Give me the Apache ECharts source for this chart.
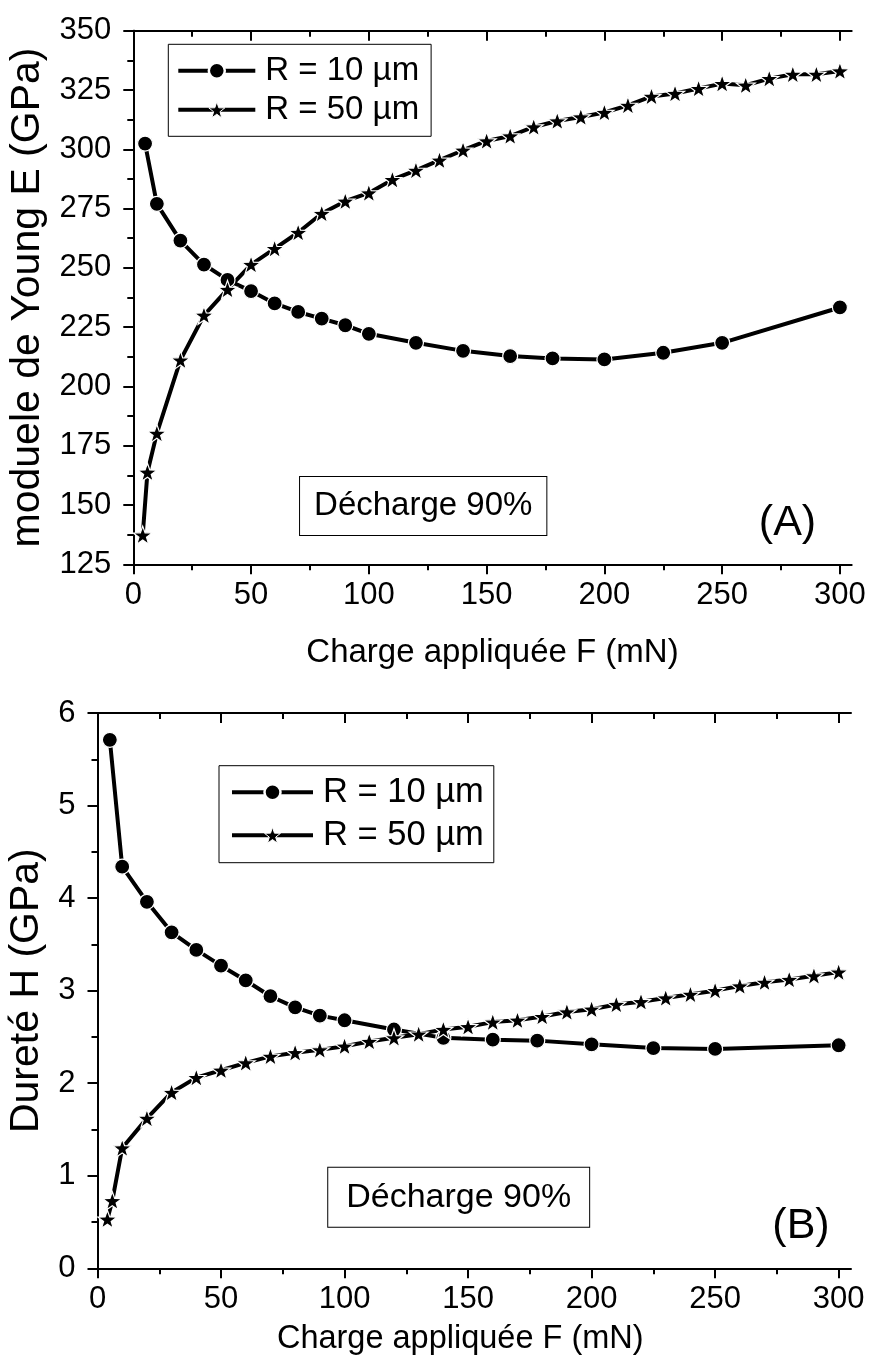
<!DOCTYPE html>
<html>
<head>
<meta charset="utf-8">
<script src="https://cdn.jsdelivr.net/npm/echarts@6/dist/echarts.min.js"></script>
<style>html,body{margin:0;padding:0;background:#fff}#c{width:870px;height:1358px}</style>
</head>
<body>
<div id="c"></div>
<script>
// ---- data ----
const seriesNames = ['R = 10 µm', 'R = 50 µm'];
const forceR10 = [5, 10, 20, 30, 40, 50, 60, 70, 80, 90, 100, 120, 140, 160, 178, 200, 225, 250, 300];
const forceR50 = [4, 6, 10, 20, 30, 40, 50, 60, 70, 80, 90, 100, 110, 120, 130, 140, 150, 160, 170, 180, 190, 200, 210, 220, 230, 240, 250, 260, 270, 280, 290, 300];
const modulusR10 = [302.4, 277, 261.5, 251.4, 244.9, 240.2, 235, 231.4, 228.6, 225.8, 222.2, 218.4, 215, 212.8, 211.8, 211.4, 214.2, 218.4, 233.3];
const modulusR50 = [137.3, 163.8, 180.2, 211.1, 230, 240.9, 251.4, 258.1, 264.9, 272.9, 278.1, 281.6, 287.2, 291.1, 295.4, 299.6, 303.5, 305.6, 309.4, 311.9, 313.6, 315.5, 318.5, 322.3, 323.5, 325.6, 327.7, 327.0, 329.8, 331.6, 331.6, 333.0];
const hardnessR10 = [5.71, 4.34, 3.96, 3.63, 3.44, 3.27, 3.11, 2.94, 2.82, 2.73, 2.68, 2.58, 2.49, 2.47, 2.46, 2.42, 2.38, 2.37, 2.41];
const hardnessR50 = [0.53, 0.73, 1.30, 1.62, 1.90, 2.06, 2.14, 2.22, 2.29, 2.33, 2.36, 2.40, 2.45, 2.49, 2.53, 2.58, 2.61, 2.66, 2.68, 2.72, 2.77, 2.80, 2.85, 2.88, 2.92, 2.96, 3.00, 3.05, 3.09, 3.12, 3.16, 3.20];
const xMajorTicks = [0, 50, 100, 150, 200, 250, 300];
const xMinorTicks = [25, 75, 125, 175, 225, 275];
const xTitle = 'Charge appliquée F (mN)';
const yTitleA = 'moduele de Young E (GPa)';
const yTitleB = 'Dureté H (GPa)';
const boxLabel = 'Décharge 90%';
const panelLabels = ['(A)', '(B)'];

// ---- styling ----
const FONT = "'Liberation Sans', Arial, Helvetica, sans-serif";
const BLACK = '#000';
const STAR = 'path://M50 0 L61.76 33.82 L97.55 34.55 L69.02 56.18 L79.39 90.45 L50 70 L20.61 90.45 L30.98 56.18 L2.45 34.55 L38.24 33.82 Z';
const XMAX = 305;

function pairs(xs, ys) { return xs.map((x, i) => [x, ys[i]]); }

function xAxesFor(g, titleGap, titleSize, titlePad) {
  const base = { type: 'value', gridIndex: g, min: 0, max: XMAX, splitLine: { show: false } };
  const line = { show: true, lineStyle: { color: BLACK, width: 2 } };
  return [
    Object.assign({}, base, {
      position: 'bottom',
      axisLine: line,
      axisTick: { show: true, length: 10, customValues: xMajorTicks, lineStyle: { color: BLACK, width: 2 } },
      axisLabel: { show: true, customValues: xMajorTicks, margin: 16, color: BLACK, fontSize: 31, fontFamily: FONT },
      name: xTitle, nameLocation: 'middle', nameGap: titleGap,
      nameTextStyle: { color: BLACK, fontSize: titleSize, fontFamily: FONT, verticalAlign: 'top', padding: titlePad }
    }),
    Object.assign({}, base, {
      position: 'bottom',
      axisLine: { show: false },
      axisTick: { show: true, length: 6, customValues: xMinorTicks, lineStyle: { color: BLACK, width: 2 } },
      axisLabel: { show: false }
    }),
    Object.assign({}, base, {
      position: 'top',
      axisLine: line,
      axisTick: { show: true, inside: true, length: 10, customValues: xMajorTicks, lineStyle: { color: BLACK, width: 2 } },
      axisLabel: { show: false }
    }),
    Object.assign({}, base, {
      position: 'top',
      axisLine: { show: false },
      axisTick: { show: true, inside: true, length: 6, customValues: xMinorTicks, lineStyle: { color: BLACK, width: 2 } },
      axisLabel: { show: false }
    })
  ];
}

function yAxesFor(g, min, max, interval, title, gap, titleSize) {
  const base = { type: 'value', gridIndex: g, min: min, max: max, interval: interval, splitLine: { show: false } };
  const line = { show: true, lineStyle: { color: BLACK, width: 2 } };
  const minor = { show: true, splitNumber: 2, length: 6, lineStyle: { color: BLACK, width: 2 } };
  return [
    Object.assign({}, base, {
      position: 'left',
      axisLine: line,
      axisTick: { show: true, length: 10, lineStyle: { color: BLACK, width: 2 } },
      minorTick: minor,
      axisLabel: { show: true, margin: 22, color: BLACK, fontSize: 31, fontFamily: FONT },
      name: title, nameLocation: 'middle', nameGap: gap,
      nameTextStyle: { color: BLACK, fontSize: titleSize, fontFamily: FONT }
    }),
    Object.assign({}, base, {
      position: 'right',
      axisLine: line,
      axisTick: { show: true, inside: true, length: 10, lineStyle: { color: BLACK, width: 2 } },
      minorTick: minor,
      axisLabel: { show: false }
    })
  ];
}

function lineSeries(name, xi, yi, data, symbol, size) {
  return {
    type: 'line', name: name, xAxisIndex: xi, yAxisIndex: yi, data: data,
    symbol: symbol, symbolSize: size, symbolKeepAspect: true, showAllSymbol: true,
    lineStyle: { color: BLACK, width: 4 },
    itemStyle: { color: BLACK, borderColor: '#fff', borderWidth: 1.2 },
    emphasis: { disabled: true }, z: 3
  };
}

function legendAt(left, top, pad, gap, w, h, fs, lh) {
  return {
    orient: 'vertical', left: left, top: top, padding: pad, itemGap: gap,
    itemWidth: w, itemHeight: h, selectedMode: false,
    borderColor: BLACK, borderWidth: 1, backgroundColor: '#fff',
    data: [
      { name: seriesNames[0], itemStyle: { color: BLACK, borderColor: '#fff', borderWidth: 2.5 } },
      { name: seriesNames[1], itemStyle: { color: BLACK, borderColor: '#fff', borderWidth: 1 } }
    ],
    lineStyle: { color: BLACK, width: 4 },
    textStyle: { color: BLACK, fontSize: fs, lineHeight: lh, fontFamily: FONT, padding: [0, 0, 0, 5] }
  };
}

function boxText(txt, cx, cy, fs, padH, padV) {
  return {
    type: 'text', x: cx, y: cy, z: 10,
    style: {
      text: txt, font: fs + 'px ' + FONT, fill: BLACK,
      align: 'center', verticalAlign: 'middle', textAlign: 'center', textVerticalAlign: 'middle',
      lineHeight: fs + 3,
      padding: [padV, padH, padV, padH], borderColor: BLACK, borderWidth: 1, backgroundColor: '#fff'
    }
  };
}
function plainText(txt, cx, cy, fs) {
  return {
    type: 'text', x: cx, y: cy, z: 10,
    style: { text: txt, font: fs + 'px ' + FONT, fill: BLACK, align: 'center', verticalAlign: 'middle', textAlign: 'center', textVerticalAlign: 'middle' }
  };
}

const option = {
  animation: false,
  backgroundColor: '#fff',
  grid: [
    { left: 133.3, top: 30.7, width: 718.4, height: 533.6, outerBoundsMode: 'none', containLabel: false },
    { left: 97.5, top: 713, width: 753.5, height: 555.3, outerBoundsMode: 'none', containLabel: false }
  ],
  xAxis: xAxesFor(0, 72, 33, [0, 0, 0, 0]).concat(xAxesFor(1, 54, 32.5, [0, 28, 0, 0])),
  yAxis: yAxesFor(0, 125, 350, 25, yTitleA, 83, 41).concat(yAxesFor(1, 0, 6, 1, yTitleB, 47, 41)),
  legend: [
    legendAt(168.3, 44.3, [10, 12, 10, 8], 6, 77, 20, 33, 33),
    legendAt(219, 765.7, [9, 10, 10, 11], 8, 81, 20, 34.5, 34)
  ],
  graphic: [
    boxText(boxLabel, 423.2, 506, 33, 14, 11),
    boxText(boxLabel, 458.7, 1197.2, 34, 18, 11),
    plainText(panelLabels[0], 787.5, 523, 43),
    plainText(panelLabels[1], 801, 1226, 43)
  ],
  series: [
    lineSeries(seriesNames[0], 0, 0, pairs(forceR10, modulusR10), 'circle', 15),
    lineSeries(seriesNames[1], 0, 0, pairs(forceR50, modulusR50), STAR, 19),
    lineSeries(seriesNames[0], 4, 2, pairs(forceR10, hardnessR10), 'circle', 15),
    lineSeries(seriesNames[1], 4, 2, pairs(forceR50, hardnessR50), STAR, 19)
  ]
};

const chart = echarts.init(document.getElementById('c'), null, { renderer: 'canvas', width: 870, height: 1358 });
chart.setOption(option);
</script>
</body>
</html>
